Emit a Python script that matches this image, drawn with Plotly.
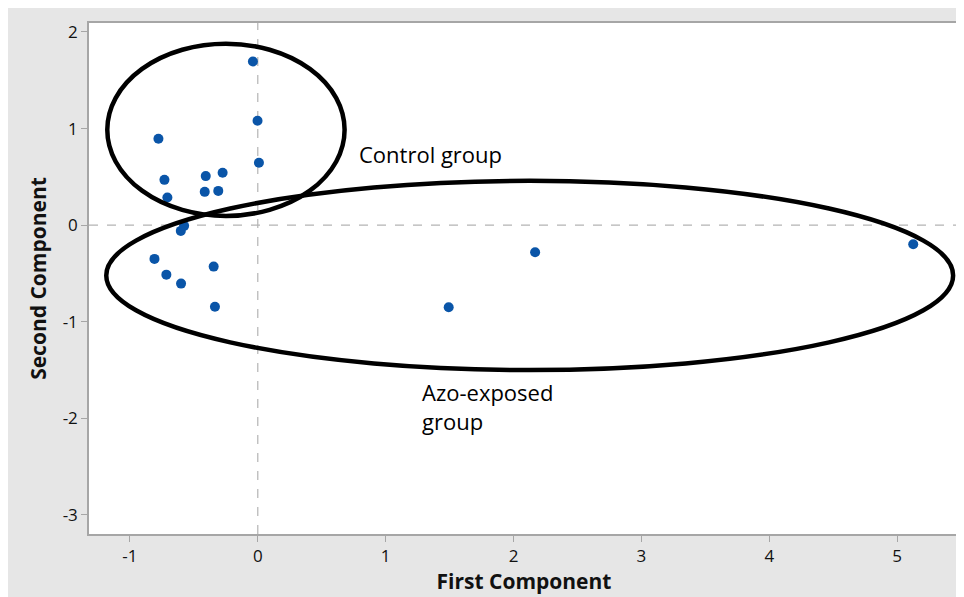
import plotly.graph_objects as go

# PCA scores
first_component = [-0.038, -0.002, 0.009, -0.777, -0.730, -0.407, -0.275, -0.415, -0.309, -0.707,
                   -0.602, -0.576, -0.808, -0.715, -0.600, -0.345, -0.335, 2.169, 1.493, 5.126]
second_component = [1.695, 1.081, 0.646, 0.894, 0.469, 0.508, 0.542, 0.345, 0.355, 0.286,
                    -0.059, -0.007, -0.349, -0.512, -0.605, -0.429, -0.844, -0.280, -0.850, -0.197]

x_ticks = [-1, 0, 1, 2, 3, 4, 5]
y_ticks = [-3, -2, -1, 0, 1, 2]

# group outlines (data units)
control_ellipse = dict(x0=-1.177, x1=0.679, y0=0.096, y1=1.879)
azo_ellipse = dict(x0=-1.185, x1=5.438, y0=-1.500, y1=0.459)

FONT = "Open Sans"
AXIS_GREY = "#a6a6a6"

fig = go.Figure()
fig.add_trace(go.Scatter(
    x=first_component, y=second_component, mode="markers",
    marker=dict(color="#0a55a8", size=10, line=dict(width=0)),
    showlegend=False, hoverinfo="x+y"))

shapes = []
for e in (control_ellipse, azo_ellipse):
    shapes.append(dict(type="circle", xref="x", yref="y", layer="above",
                       line=dict(color="black", width=4.5), **e))
shapes.append(dict(type="line", xref="x", yref="paper", x0=0, x1=0, y0=0, y1=1,
                   line=dict(color="#b4b4b4", width=1.2, dash="dash"), layer="below"))
shapes.append(dict(type="line", xref="paper", yref="y", x0=0, x1=1, y0=0, y1=0,
                   line=dict(color="#b4b4b4", width=1.2, dash="dash"), layer="below"))

fig.update_layout(
    width=956, height=589,
    margin=dict(l=81, r=3, t=15, b=63),
    paper_bgcolor="#e6e6e6", plot_bgcolor="white",
    font=dict(family=FONT, color="#111111"),
    shapes=shapes,
    annotations=[
        dict(x=0.773, y=0.739, xref="x", yref="y", text="Control group", showarrow=False,
             xanchor="left", yanchor="middle", font=dict(size=22, color="black", family=FONT)),
        dict(x=1.265, y=-1.873, xref="x", yref="y", text="Azo-exposed<br>group", showarrow=False,
             xanchor="left", yanchor="middle", align="left",
             font=dict(size=22, color="black", family=FONT)),
    ],
    xaxis=dict(range=[-1.32, 5.484], tickvals=x_ticks, ticktext=[str(v) for v in x_ticks],
               showgrid=False, zeroline=False, showline=True, linecolor=AXIS_GREY, linewidth=1.5,
               mirror=True, ticks="outside", ticklen=6, tickcolor=AXIS_GREY,
               tickfont=dict(size=17, family=FONT),
               title=dict(text="<b>First Component</b>", font=dict(size=21, family=FONT), standoff=6)),
    yaxis=dict(range=[-3.197, 2.093], tickvals=y_ticks, ticktext=[str(v) for v in y_ticks],
               showgrid=False, zeroline=False, showline=True, linecolor=AXIS_GREY, linewidth=1.5,
               mirror=True, ticks="outside", ticklen=6, tickcolor=AXIS_GREY,
               tickfont=dict(size=17, family=FONT),
               title=dict(text="<b>Second Component</b>", font=dict(size=21, family=FONT), standoff=10)),
)

fig.write_html("out.html")
